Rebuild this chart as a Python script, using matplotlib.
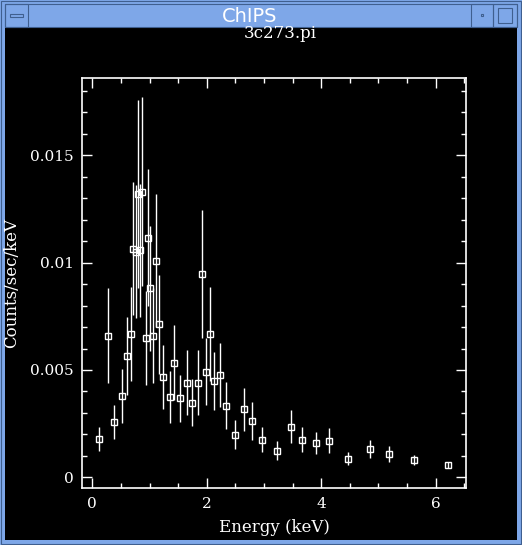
import matplotlib
matplotlib.use("Agg")
import matplotlib.pyplot as plt
from matplotlib.patches import Rectangle
from matplotlib.ticker import MultipleLocator

# spectrum of 3c273.pi
energy = [0.122, 0.280, 0.385, 0.524, 0.612, 0.668, 0.720, 0.769, 0.804, 0.839,
          0.874, 0.930, 0.979, 1.014, 1.066, 1.119, 1.171, 1.241, 1.350, 1.434,
          1.538, 1.647, 1.748, 1.853, 1.923, 1.988, 2.063, 2.133, 2.238, 2.334,
          2.491, 2.649, 2.787, 2.970, 3.234, 3.474, 3.671, 3.916, 4.138, 4.476,
          4.860, 5.192, 5.629, 6.224]
rate = [0.00178, 0.0066, 0.00259, 0.00379, 0.00565, 0.00668, 0.01064, 0.0105, 0.0132, 0.01058,
        0.01331, 0.00648, 0.01117, 0.0088, 0.0066, 0.01008, 0.00713, 0.00467, 0.00373, 0.00534,
        0.00368, 0.00441, 0.00348, 0.00441, 0.00947, 0.00492, 0.00668, 0.00449, 0.00477, 0.00334,
        0.00199, 0.00318, 0.00262, 0.00174, 0.00124, 0.00236, 0.00175, 0.00161, 0.00171, 0.00087,
        0.00132, 0.00109, 0.00079, 0.00057]
rate_err = [0.00055, 0.0022, 0.0008, 0.00125, 0.0018, 0.0022, 0.0031, 0.0031, 0.0044, 0.0031,
            0.0044, 0.0022, 0.0032, 0.0029, 0.0022, 0.0031, 0.0023, 0.0015, 0.0012, 0.00175,
            0.0011, 0.0015, 0.0011, 0.0015, 0.003, 0.00157, 0.0022, 0.00135, 0.0015, 0.0011,
            0.00066, 0.001, 0.0009, 0.00058, 0.00043, 0.00077, 0.00058, 0.00052, 0.00057, 0.0003,
            0.00041, 0.00036, 0.00024, 0.00015]

xticks = [0, 2, 4, 6]
xtick_labels = ["0", "2", "4", "6"]
yticks = [0, 0.005, 0.01, 0.015]
ytick_labels = ["0", "0.005", "0.01", "0.015"]

W, H = 522, 545
BLUE = "#7ea7e8"
DARK = "#3f5f8f"


def fx(px):
    return px / W


def fy(py):
    return 1 - py / H


def box(x0, y0, x1, y1, z=-5, **kw):
    # rectangle given in screen pixels (y down)
    fig.add_artist(Rectangle((fx(x0), fy(y1)), fx(x1) - fx(x0), fy(y0) - fy(y1),
                             transform=fig.transFigure, zorder=z, **kw))


fig = plt.figure(figsize=(W / 100, H / 100), dpi=100, facecolor=BLUE)

# window frame
box(5, 28, 517, 540, z=-10, facecolor="black", edgecolor="none")
box(1, 1, 521, 544, facecolor="none", edgecolor=DARK, lw=0.8)
box(5, 4, 517, 27, facecolor="none", edgecolor=DARK, lw=0.8)
box(5, 4, 28, 27, facecolor="none", edgecolor=DARK, lw=0.8)
box(10, 14, 23, 17, facecolor="none", edgecolor=DARK, lw=0.8)
box(471, 4, 493, 27, facecolor="none", edgecolor=DARK, lw=0.8)
box(481, 14, 483, 16, facecolor="none", edgecolor=DARK, lw=0.8)
box(493, 4, 517, 27, facecolor="none", edgecolor=DARK, lw=0.8)
box(498, 8, 512, 23, facecolor="none", edgecolor=DARK, lw=0.8)
fig.text(fx(250), fy(16), "ChIPS", color="white", fontsize=14,
         family="DejaVu Sans", ha="center", va="center")

ax = fig.add_axes([fx(82.3), fy(488.3), fx(466.3) - fx(82.3), fy(78.3) - fy(488.3)])
ax.set_zorder(5)
ax.set_facecolor("black")

ax.errorbar(energy, rate, yerr=rate_err, fmt="s", ms=5, mfc="none", mec="white",
            mew=1.0, ecolor="white", elinewidth=1.0, capsize=0)

ax.set_xlim(-0.175, 6.538)
ax.set_ylim(-0.000513, 0.01859)

ax.set_xticks(xticks, xtick_labels)
ax.set_yticks(yticks, ytick_labels)
ax.xaxis.set_minor_locator(MultipleLocator(0.5))
ax.yaxis.set_minor_locator(MultipleLocator(0.001))
ax.tick_params(which="both", direction="in", top=True, right=True, colors="white",
               width=1.0, labelsize=11, pad=6)
ax.tick_params(which="major", length=7.5)
ax.tick_params(which="minor", length=3.8)
for lbl in ax.get_xticklabels() + ax.get_yticklabels():
    lbl.set_family("DejaVu Serif")
for sp in ax.spines.values():
    sp.set_color("white")
    sp.set_linewidth(1.2)

ax.set_xlabel("Energy (keV)", color="white", fontsize=12, family="DejaVu Serif", labelpad=6)
ax.set_ylabel("Counts/sec/keV", color="white", fontsize=12, family="DejaVu Serif", labelpad=7)
fig.text(fx(280), fy(34), "3c273.pi", color="white", fontsize=12,
         family="DejaVu Serif", ha="center", va="center")

fig.savefig("out.png", dpi=100, facecolor=fig.get_facecolor())
